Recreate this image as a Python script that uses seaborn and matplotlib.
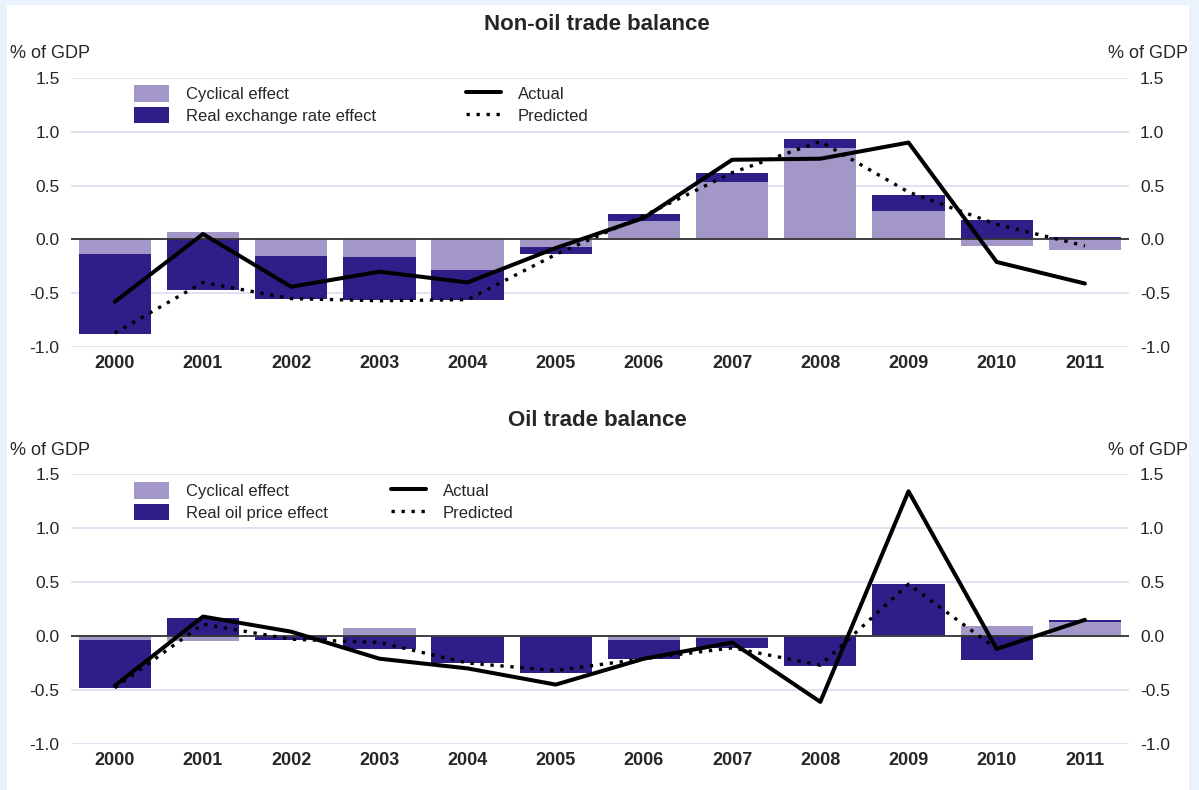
import numpy as np
import pandas as pd
import matplotlib
matplotlib.use("Agg")
import matplotlib.pyplot as plt
from matplotlib.patches import Patch, Rectangle
from matplotlib.lines import Line2D
import seaborn as sns

# ---------------- data ----------------
years = ['2000', '2001', '2002', '2003', '2004', '2005',
         '2006', '2007', '2008', '2009', '2010', '2011']

nonoil_cyclical = [-0.14, 0.07, -0.15, -0.16, -0.28, -0.07, 0.17, 0.53, 0.85, 0.26, -0.06, -0.10]
nonoil_reer = [-0.74, -0.47, -0.40, -0.40, -0.28, -0.07, 0.065, 0.09, 0.08, 0.15, 0.18, 0.02]
nonoil_actual = [-0.58, 0.05, -0.44, -0.30, -0.40, -0.08, 0.20, 0.74, 0.75, 0.90, -0.21, -0.41]
nonoil_predicted = [-0.87, -0.40, -0.55, -0.57, -0.56, -0.14, 0.22, 0.62, 0.91, 0.44, 0.14, -0.06]

oil_cyclical = [-0.04, -0.05, -0.01, 0.07, -0.01, -0.01, -0.04, -0.02, -0.01, 0.01, 0.09, 0.13]
oil_price = [-0.44, 0.17, -0.03, -0.12, -0.24, -0.33, -0.17, -0.09, -0.27, 0.47, -0.22, 0.02]
oil_actual = [-0.46, 0.18, 0.04, -0.21, -0.30, -0.45, -0.21, -0.06, -0.61, 1.34, -0.12, 0.15]
oil_predicted = [-0.48, 0.11, -0.03, -0.06, -0.25, -0.32, -0.21, -0.11, -0.27, 0.48, -0.12, np.nan]

yticks = [-1.0, -0.5, 0.0, 0.5, 1.0, 1.5]
ytick_labels = ['-1.0', '-0.5', '0.0', '0.5', '1.0', '1.5']

# ---------------- style ----------------
sns.set_style("white")
plt.rcParams['font.family'] = ['Liberation Sans', 'DejaVu Sans']

LIGHT = '#A397C8'
DARK = '#2E1F88'
GRID = '#DEDBEF'
BG = '#EAF3FC'

fig = plt.figure(figsize=(11.99, 7.90), dpi=100, facecolor=BG)
fig.patches.append(Rectangle((7 / 1199, 0), (1189 - 7) / 1199, (790 - 5) / 790,
                             transform=fig.transFigure, facecolor='white',
                             edgecolor='none', zorder=-10))

ax_left = 70.7 / 1199
ax_width = (1129 - 70.7) / 1199
ax_top = fig.add_axes([ax_left, (790 - 347) / 790, ax_width, 269 / 790])
ax_bot = fig.add_axes([ax_left, (790 - 744) / 790, ax_width, 270 / 790])


def stacked_bottom(first, second):
    first = np.asarray(first, float)
    second = np.asarray(second, float)
    return np.where(np.sign(first) == np.sign(second), first, 0.0)


def draw_panel(ax, cyc, eff, actual, predicted):
    ax.set_facecolor('none')
    df = pd.DataFrame({'year': years, 'cyc': cyc, 'eff': eff})
    sns.barplot(data=df, x='year', y='cyc', order=years, color=LIGHT,
                saturation=1, width=0.82, linewidth=0, errorbar=None,
                ax=ax, zorder=2)
    sns.barplot(data=df, x='year', y='eff', order=years, color=DARK,
                saturation=1, width=0.82, linewidth=0, errorbar=None,
                bottom=stacked_bottom(cyc, eff), ax=ax, zorder=2)
    xs = np.arange(len(years))
    sns.lineplot(x=xs, y=np.asarray(actual, float), color='black',
                 linewidth=2.9, ax=ax, zorder=5)
    sns.lineplot(x=xs, y=np.asarray(predicted, float), color='black',
                 linewidth=2.4, linestyle=(0, (1, 2.0)), ax=ax, zorder=6)

    ax.axhline(0, color='#333333', linewidth=1.3, zorder=4)
    ax.set_ylim(-1.0, 1.5)
    ax.set_xlim(-0.5, len(years) - 0.5)
    ax.set_yticks(yticks)
    ax.set_yticklabels(ytick_labels)
    ax.yaxis.grid(True, color=GRID, linewidth=1.2, zorder=0)
    ax.set_axisbelow(True)
    ax.xaxis.grid(False)
    for s in ax.spines.values():
        s.set_visible(False)
    ax.set_xlabel('')
    ax.set_ylabel('')
    ax.set_xticks(xs)
    ax.set_xticklabels(years, fontsize=13, fontweight='bold')
    ax.set_xticks(np.arange(-0.5, len(years), 1.0), minor=True)
    ax.tick_params(axis='x', which='major', length=0, pad=6)
    ax.tick_params(axis='x', which='minor', length=4, width=1, color='#BEB9D8',
                   direction='out')
    ax.tick_params(axis='y', which='both', length=0, labelsize=12.5,
                   left=False, right=False, labelleft=True, labelright=True,
                   pad=8)


draw_panel(ax_top, nonoil_cyclical, nonoil_reer, nonoil_actual, nonoil_predicted)
draw_panel(ax_bot, oil_cyclical, oil_price, oil_actual, oil_predicted)

# titles and unit labels
fig.text(0.498, 1 - 25 / 790, 'Non-oil trade balance', ha='center', va='center',
         fontsize=16, fontweight='bold')
fig.text(0.498, 1 - 421 / 790, 'Oil trade balance', ha='center', va='center',
         fontsize=16, fontweight='bold')
for ypix in (53, 450):
    fig.text(10 / 1199, 1 - ypix / 790, '% of GDP', ha='left', va='center', fontsize=13)
    fig.text(1188 / 1199, 1 - ypix / 790, '% of GDP', ha='right', va='center', fontsize=13)


def add_legends(ax, eff_label, ypix, line_x):
    h1 = [Patch(facecolor=LIGHT, edgecolor='none'), Patch(facecolor=DARK, edgecolor='none')]
    leg1 = ax.legend(h1, ['Cyclical effect', eff_label], loc='upper left',
                     bbox_to_anchor=(134 / 1199, 1 - ypix / 790),
                     bbox_transform=fig.transFigure, frameon=False, fontsize=12,
                     handlelength=2.1, handleheight=1.15, handletextpad=1.0,
                     labelspacing=0.3, borderpad=0, borderaxespad=0)
    ax.add_artist(leg1)
    h2 = [Line2D([], [], color='black', linewidth=2.9),
          Line2D([], [], color='black', linewidth=2.4, linestyle=(0, (1, 2.0)))]
    ax.legend(h2, ['Actual', 'Predicted'], loc='upper left',
              bbox_to_anchor=(line_x / 1199, 1 - ypix / 790),
              bbox_transform=fig.transFigure, frameon=False, fontsize=12,
              handlelength=2.1, handleheight=1.15, handletextpad=1.0,
              labelspacing=0.3, borderpad=0, borderaxespad=0)


add_legends(ax_top, 'Real exchange rate effect', 85, 466)
add_legends(ax_bot, 'Real oil price effect', 482, 391)

fig.savefig('out.png', dpi=100, facecolor=BG)
